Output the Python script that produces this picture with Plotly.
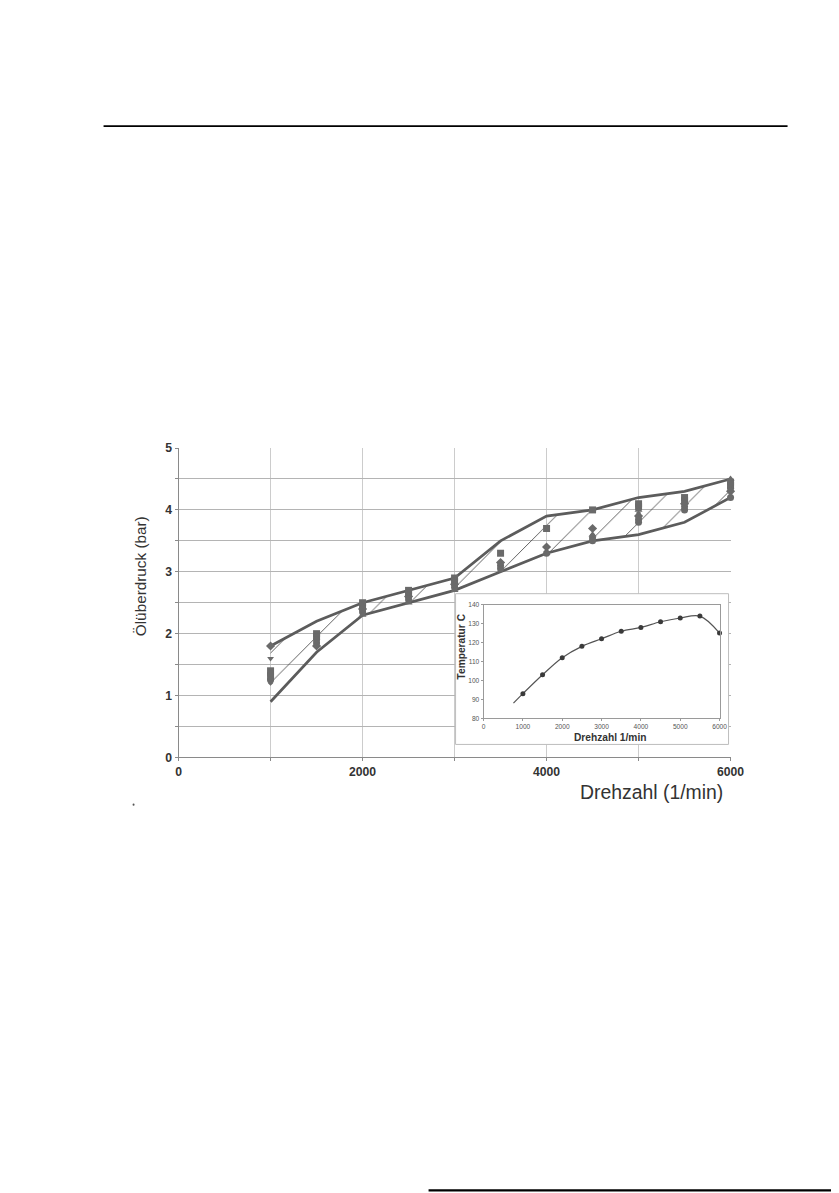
import plotly.graph_objects as go

# ---------------- data ----------------
rpm = [1000, 1500, 2000, 2500, 3000, 3500, 4000, 4500, 5000, 5500, 6000]
upper = [1.8, 2.2, 2.5, 2.7, 2.9, 3.5, 3.9, 4.0, 4.2, 4.3, 4.5]
lower = [0.9, 1.7, 2.3, 2.5, 2.7, 3.0, 3.3, 3.5, 3.6, 3.8, 4.2]

meas_square_a = [1.4, 2.0, 2.5, 2.7, 2.9, 3.3, 3.7, 4.0, 4.1, 4.2, 4.45]
meas_square_b = [1.3, 1.95, 2.45, 2.65, 2.85, None, None, None, 4.05, 4.15, 4.4]
meas_circle_a = [1.35, 1.9, 2.4, 2.6, 2.8, 3.1, 3.3, 3.55, 3.85, 4.0, 4.35]
meas_circle_b = [1.25, 1.85, 2.35, 2.55, 2.75, 3.05, None, 3.5, 3.8, 4.05, 4.2]
meas_diamond = [1.8, 1.8, 2.4, 2.6, 2.8, 3.15, 3.4, 3.7, 3.9, 4.1, 4.3]
meas_triangle = [None, None, 2.3, 2.5, 2.7, None, 3.3, 3.6, 4.0, None, 4.5]
meas_tridown = [1.6, None, None, None, None, None, None, None, None, None, None]
meas_small = [1.2, 1.85, 2.45, 2.65, 2.85, 3.05, 3.4, 3.6, 3.95, 4.1, 4.4]

temp_rpm = [1000, 1500, 2000, 2500, 3000, 3500, 4000, 4500, 5000, 5500, 6000]
temp_val = [93, 103, 112, 118, 122, 126, 128, 131, 133, 134, 125]
temp_start_rpm = 760
temp_start_val = 88

main_xticks = [0, 1000, 2000, 3000, 4000, 5000, 6000]
main_xlabels = ["0", "", "2000", "", "4000", "", "6000"]
main_yticks = [0, 0.5, 1, 1.5, 2, 2.5, 3, 3.5, 4, 4.5, 5]
main_ylabels = ["0", "", "1", "", "2", "", "3", "", "4", "", "5"]
inset_xticks = [0, 1000, 2000, 3000, 4000, 5000, 6000]
inset_yticks = [80, 90, 100, 110, 120, 130, 140]

# ---------------- layout helpers ----------------
OFF = 8                     # default body margin of the page
W, H = 850, 1205            # figure size (covers the whole photographed area)
SX, AX = 0.98, 2.6          # observed capture scaling (x)
SY, AY = 0.984, 8.0         # observed capture scaling (y)
FS = 1 / SX                 # font compensation

def px(x):
    return ((x - AX) / SX - OFF) / W
def py(y):
    return 1 - ((y - AY) / SY - OFF) / H
def f(s):
    return round(s * FS, 1)

LINE = "#5c5c5c"
MARK = "#6a6a6a"

fig = go.Figure()

# hatched band between lower and upper envelopes
fig.add_trace(go.Scatter(x=rpm, y=lower, mode="lines",
                         line=dict(color=LINE, width=2.7), showlegend=False,
                         xaxis="x", yaxis="y"))
fig.add_trace(go.Scatter(x=rpm, y=upper, mode="lines",
                         line=dict(color=LINE, width=2.7), showlegend=False,
                         fill="tonexty", fillcolor="rgba(0,0,0,0)",
                         fillpattern=dict(shape="/", size=21, solidity=0.04,
                                          fgcolor="#444444", bgcolor="rgba(0,0,0,0)",
                                          fillmode="replace"),
                         xaxis="x", yaxis="y"))

series = [
    (meas_square_a, "square", 7),
    (meas_square_b, "square", 7),
    (meas_circle_a, "circle", 7),
    (meas_circle_b, "circle", 7),
    (meas_diamond, "diamond", 7),
    (meas_triangle, "triangle-up", 7),
    (meas_tridown, "triangle-down", 6),
    (meas_small, "diamond", 4),
]
for vals, sym, sz in series:
    fig.add_trace(go.Scatter(x=rpm, y=vals, mode="markers", cliponaxis=False,
                             marker=dict(symbol=sym, size=sz, color=MARK),
                             showlegend=False, xaxis="x", yaxis="y"))

# white panel behind the inset (in main data coordinates)
box_x = [3011, 5978, 5978, 3011, 3011]
box_y = [0.21, 0.21, 2.646, 2.646, 0.21]
fig.add_trace(go.Scatter(x=box_x, y=box_y, mode="lines", fill="toself",
                         fillcolor="white", line=dict(color="#bdbdbd", width=1),
                         showlegend=False, hoverinfo="skip",
                         xaxis="x", yaxis="y"))

# inset temperature curve
fig.add_trace(go.Scatter(x=[temp_start_rpm] + temp_rpm, y=[temp_start_val] + temp_val,
                         mode="lines", line=dict(color="#555555", width=1.2, shape="spline",
                                                 smoothing=1.0),
                         showlegend=False, xaxis="x2", yaxis="y2"))
fig.add_trace(go.Scatter(x=temp_rpm, y=temp_val, mode="markers", cliponaxis=False,
                         marker=dict(symbol="circle", size=5, color="#3a3a3a"),
                         showlegend=False, xaxis="x2", yaxis="y2"))

tickfont_main = dict(family="Liberation Sans", size=f(12), color="#333333", weight="bold")
tickfont_inset = dict(family="Liberation Sans", size=f(6.5), color="#555555")

fig.update_layout(
    width=W, height=H,
    margin=dict(l=0, r=0, t=0, b=0),
    paper_bgcolor="white", plot_bgcolor="white",
    showlegend=False,
    xaxis=dict(domain=[px(178), px(730)], range=[0, 6000], tickvals=main_xticks,
               ticktext=main_xlabels, showgrid=True, gridcolor="#cccccc", gridwidth=1,
               showline=True, linecolor="#8a8a8a", linewidth=1, zeroline=False,
               ticks="outside", ticklen=3, tickcolor="#8a8a8a",
               tickfont=tickfont_main, anchor="y", fixedrange=True),
    yaxis=dict(domain=[py(755), py(447)], range=[0, 5], tickvals=main_yticks,
               ticktext=main_ylabels, showgrid=True, gridcolor="#b4b4b4", gridwidth=1.4,
               showline=True, linecolor="#8a8a8a", linewidth=1, zeroline=False,
               ticks="outside", ticklen=3, tickcolor="#8a8a8a",
               tickfont=tickfont_main, anchor="x", fixedrange=True),
    xaxis2=dict(domain=[px(483), px(719)], range=[0, 6000], tickvals=inset_xticks,
                showgrid=False, showline=True, mirror=True, linecolor="#9a9a9a",
                linewidth=1, zeroline=False, ticks="outside", ticklen=2,
                tickcolor="#9a9a9a", tickfont=tickfont_inset, anchor="y2"),
    yaxis2=dict(domain=[py(716), py(603)], range=[80, 140], tickvals=inset_yticks,
                showgrid=False, showline=True, mirror=True, linecolor="#9a9a9a",
                linewidth=1, zeroline=False, ticks="outside", ticklen=2,
                tickcolor="#9a9a9a", tickfont=tickfont_inset, anchor="x2"),
)

ann = [
    dict(text="Ölüberdruck (bar)", x=px(140), y=py(575), textangle=-90,
         font=dict(family="Liberation Sans", size=f(15), color="#333333")),
    dict(text="Drehzahl (1/min)", x=px(651), y=py(789),
         font=dict(family="Liberation Sans", size=f(19), color="#333333")),
    dict(text="Temperatur C", x=px(461), y=py(645), textangle=-90,
         font=dict(family="Liberation Sans", size=f(10), color="#333333", weight="bold")),
    dict(text="Drehzahl 1/min", x=px(609), y=py(735),
         font=dict(family="Liberation Sans", size=f(10), color="#333333", weight="bold")),
]
for a in ann:
    a.update(xref="paper", yref="paper", showarrow=False, xanchor="center", yanchor="middle")
fig.update_layout(annotations=ann)

fig.update_layout(shapes=[
    dict(type="line", xref="paper", yref="paper", x0=px(103), x1=px(787),
         y0=py(126.5), y1=py(126.5), line=dict(color="black", width=1.6)),
    dict(type="line", xref="paper", yref="paper", x0=px(428), x1=px(845),
         y0=py(1186), y1=py(1186), line=dict(color="black", width=2.2)),
    dict(type="circle", xref="paper", yref="paper", x0=px(132), x1=px(134),
         y0=py(803), y1=py(801), fillcolor="#555555", line=dict(width=0)),
])

fig.write_html("out.html", config={"displayModeBar": False})
